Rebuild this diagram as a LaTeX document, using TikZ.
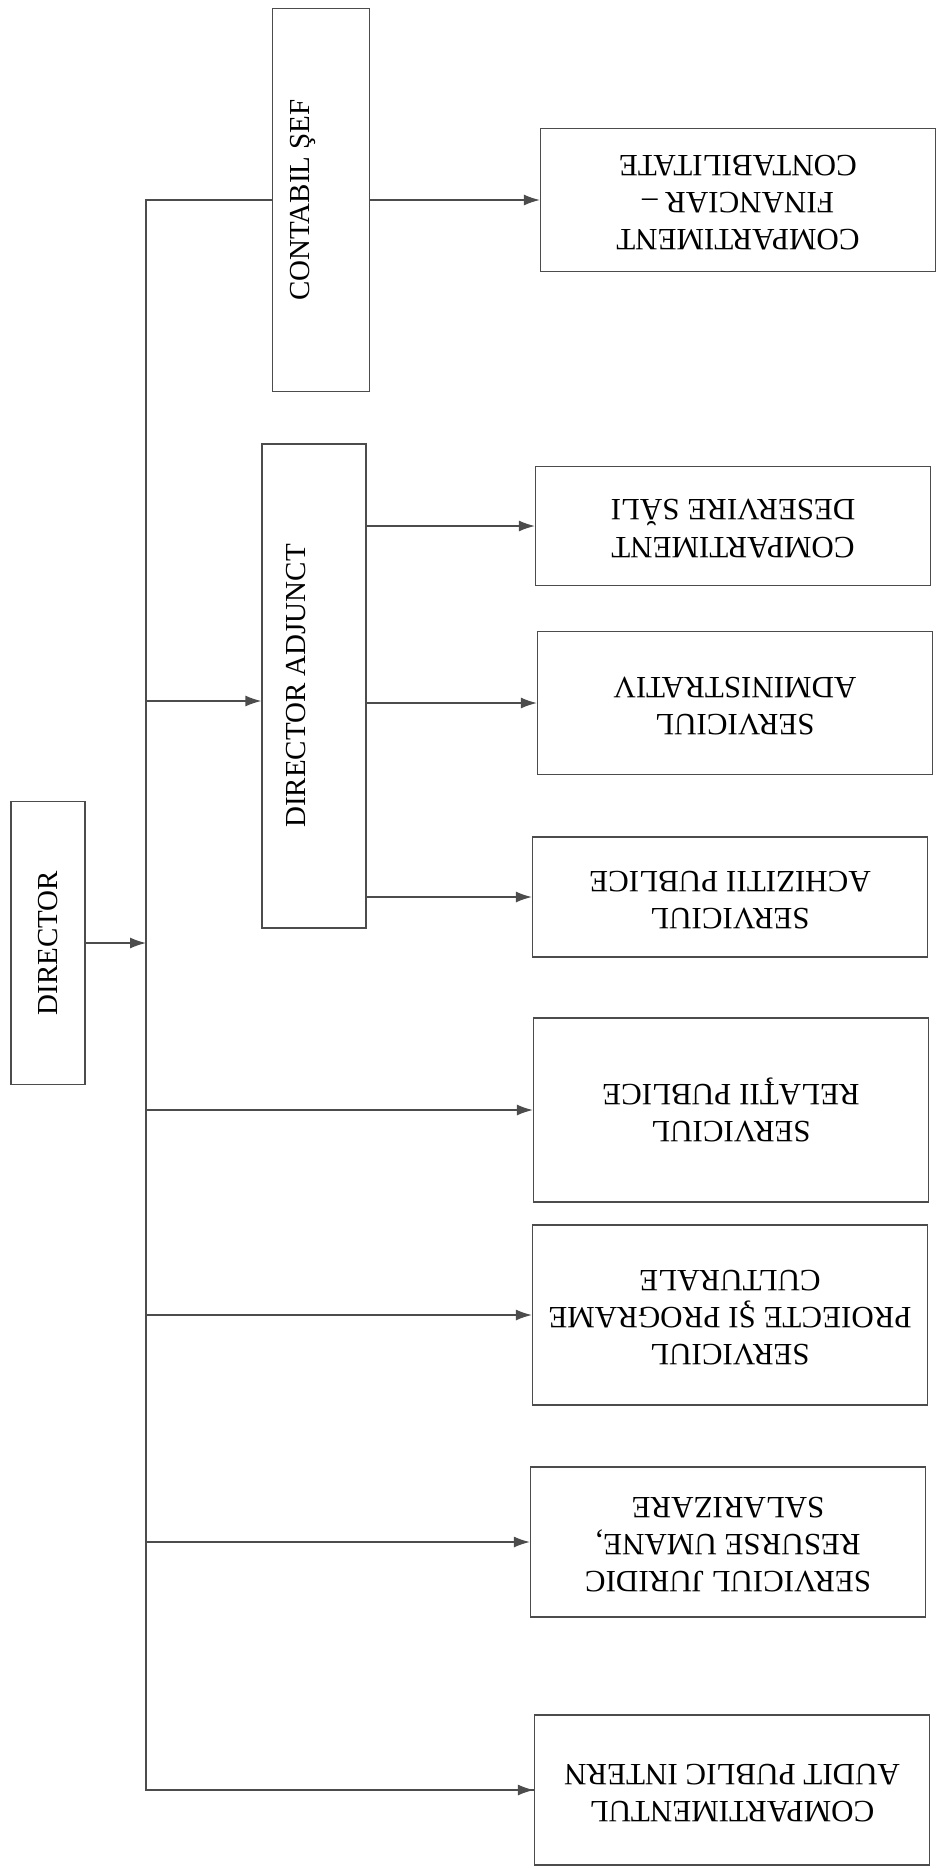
\documentclass[tikz,border=0pt]{standalone}
\usepackage{fontspec}
\setmainfont{Liberation Serif}
\usetikzlibrary{arrows.meta, positioning, calc}

\newcommand{\flip}[1]{\rotatebox{180}{\begin{tabular}{@{}c@{}}#1\end{tabular}}}
\newcommand{\upward}[1]{\rotatebox{90}{#1}}

\begin{document}
\begin{tikzpicture}[x=1pt,y=-1pt,>={Latex[length=16pt,width=11pt]},
            unit/.style={draw=black!70, line width=1.3pt, fill=white, inner sep=0pt,
                         minimum width=395pt, font=\fontsize{31}{37}\selectfont}]
  \useasboundingbox (0,0) rectangle (948,1869);

  \tikzstyle{chief} = [draw=black!70, line width=1.3pt, fill=white, inner sep=0pt, font=\fontsize{29}{35}\selectfont]
  \tikzstyle{line} = [draw=black!70, line width=1.3pt, ->]

  % left column
  \node [chief, minimum width=74pt, minimum height=283pt] at (48,943) (dir) {\upward{DIRECTOR}};
  \node [chief, minimum width=97pt, minimum height=383pt] at (321,200) (cont) {\upward{CONTABIL ŞEF}\hspace*{36pt}};
  \node [chief, minimum width=104pt, minimum height=484pt] at (314,686) (adj) {\upward{DIRECTOR ADJUNCT}\hspace*{36pt}};

  % right column
  \node [unit, minimum height=143pt] at (738,200) (fin) {\flip{COMPARTIMENT\\ FINANCIAR --\\ CONTABILITATE}};
  \node [unit, minimum height=119pt] at (733,526) (des) {\flip{COMPARTIMENT\\ DESERVIRE SĂLI}};
  \node [unit, minimum height=143pt] at (735,703) (adm) {\flip{SERVICIUL\\ ADMINISTRATIV}};
  \node [unit, minimum height=120pt] at (730,897) (ach) {\flip{SERVICIUL\\ ACHIZITII PUBLICE}};
  \node [unit, minimum height=184pt] at (731,1110) (rel) {\flip{SERVICIUL\\ RELAŢII PUBLICE}};
  \node [unit, minimum height=180pt] at (730,1315) (pro) {\flip{SERVICIUL\\ PROIECTE ŞI PROGRAME\\ CULTURALE}};
  \node [unit, minimum height=150pt] at (728,1542) (jur) {\flip{SERVICIUL JURIDIC\\ RESURSE UMANE,\\ SALARIZARE}};
  \node [unit, minimum height=150pt] at (732,1790) (aud) {\flip{COMPARTIMENTUL\\ AUDIT PUBLIC INTERN}};

  % connectors
  \coordinate (ctop) at (146,200);
  \coordinate (adjin) at ($(adj.west)+(0,15)$);
  \draw [line] (dir.east) -- (dir.east -| ctop);
  \draw [line, -] (cont.west) -- (ctop) |- (aud.west);
  \draw [line] (aud.west -| ctop) -- (aud.west);
  \draw [line] (cont.east |- fin.west) -- (fin.west);
  \draw [line] (ctop |- adjin) -- (adjin);
  \draw [line] (adj.east |- des.west) -- (des.west);
  \draw [line] (adj.east |- adm.west) -- (adm.west);
  \draw [line] (adj.east |- ach.west) -- (ach.west);
  \draw [line] (ctop |- rel.west) -- (rel.west);
  \draw [line] (ctop |- pro.west) -- (pro.west);
  \draw [line] (ctop |- jur.west) -- (jur.west);
\end{tikzpicture}
\end{document}
